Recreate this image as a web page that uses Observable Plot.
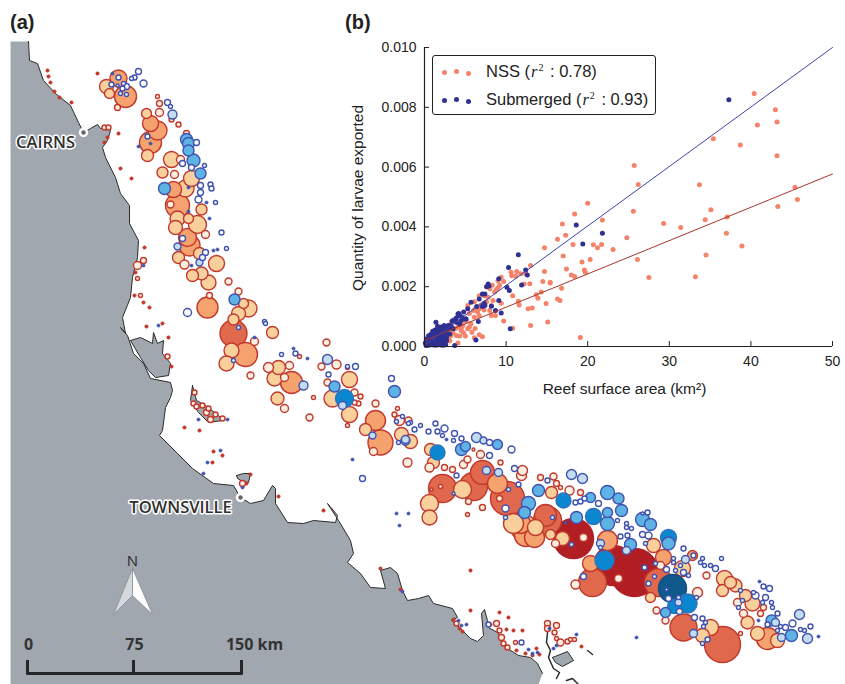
<!DOCTYPE html>
<html><head><meta charset="utf-8">
<script src="https://cdn.jsdelivr.net/npm/d3@7"></script>
<script src="https://cdn.jsdelivr.net/npm/@observablehq/plot@0.6"></script>
<style>
html,body{margin:0;padding:0;background:#fff}
#wrap{position:relative;width:845px;height:684px;overflow:hidden;font-family:"Liberation Sans",Arial,sans-serif}
#wrap svg{position:absolute;background:transparent;max-width:none}
#mapBox svg{left:0;top:0}
#scatBox svg{left:340px;top:0}
.pl{position:absolute;font:bold 20px "Liberation Sans",Arial,sans-serif;color:#222;top:11px}
#leg{position:absolute;left:432px;top:55px;width:224px;height:60px;border:1px solid #222;border-radius:3px;background:#fff;box-sizing:border-box;font-size:16.5px;color:#222}
#leg .row{position:absolute;left:53px;white-space:nowrap}
#leg i{font-family:"Liberation Serif",serif;padding-left:1px;padding-right:1px}
#leg sup{font-size:10px;line-height:0;font-family:"Liberation Serif",serif;padding-right:2px}
#leg b{position:absolute;width:5px;height:5px;border-radius:50%}
</style></head><body>
<div id="wrap"><div id="mapBox"></div><div id="scatBox"></div>
<div class="pl" style="left:10px">(a)</div><div class="pl" style="left:345px">(b)</div>
<div id="leg"></div></div>
<script>
// ---- Map data, map grid units [east, south]
const coast=[[28,41],[29,60],[37,63],[43,80],[55,93],[70,105],[78,122],[83,132],[90,128],[97,124],[100,128],[107,126],[110,130],[107,140],[102,147],[105,157],[115,177],[120,193],[129,205],[129,223],[138,240],[137,257],[132,277],[130,297],[122,317],[125,333],[120,327],[127,335],[133,353],[143,363],[150,378],[170,382],[172,390],[170,397],[165,407],[162,430],[159,435],[177,453],[192,468],[213,483],[233,485],[240,497],[250,503],[263,500],[272,485],[275,488],[275,503],[287,522],[303,523],[313,520],[335,522],[337,515],[327,503],[338,520],[350,540],[353,553],[347,562],[360,573],[370,587],[385,588],[380,570],[390,567],[397,573],[402,590],[407,600],[418,598],[428,595],[433,603],[452,608],[457,617],[451,620],[457,625],[462,630],[470,638],[477,641],[483,635],[481,613],[484,609],[487,620],[488,627],[497,632],[502,640],[507,648],[518,655],[530,657],[537,663],[542,673],[538,684]];
const landCorners=[[10,684],[10,41]];
const hinchinbrook=[[130,340],[140,337],[152,343],[153,332],[157,343],[163,340],[162,353],[170,363],[168,375],[155,377],[148,370],[140,357],[130,340]];
const palmIslands=[[192,385],[196,400],[205,405],[218,415],[222,420],[208,422],[198,412],[190,400],[192,385]];
const magnetic=[[236,475],[243,473],[250,473],[248,482],[242,481],[237,478],[236,475]];
const southIsland=[[552,657],[567,651],[573,660],[562,666],[555,662],[552,657]];
const southPen=[[547,632],[546,642],[550,650],[548,657],[553,668],[559,672],[556,678]];
const southReef=[[587,650],[592,654]];
const southReef2=[[566,680],[572,678],[578,684]];
const compassLeft=[[132,568],[132,595],[113,614],[132,568]];
const compassRight=[[132,568],[152,614],[132,595],[132,568]];
const cities=[["CAIRNS",83,132,45,142],["TOWNSVILLE",240,497,180,507]];
const scaleBarKm=[0,75,150];
const scaleBarUnit=[27,133,241];

// reefs: [east, south, size]
const nssPale=[[104,127,2.5],[108,127,2.5],[143,260,3],[137,265,4],[137,278,2],[140,295,2],[167,356,2.5],[194,392,2.5],[193,403,2.5],[196,406,2.5],[202,405,2.5],[208,408,2.5],[206,412,3],[215,414,2.5],[210,419,3],[222,418,2.5],[242,483,3],[456,623,2.5],[496,623,3],[499,630,2.5],[501,637,3],[503,643,2.5],[507,647,2.5],[515,642,2],[547,623,3],[547,628,3],[556,625,3],[554,632,2.5],[560,642,3.5],[556,638,2],[567,641,2.5],[570,639,2],[574,639,2],[117,107,3],[157,96,2],[159,103,3],[159,112,4],[171,119,2.5],[178,124,2.5],[186,133,3],[180,159,4],[174,174,4],[170,204,3.5],[205,234,4],[184,264,4.5],[228,281,3.5],[238,291,3.5],[209,295,3],[254,341,4],[250,375,3.5],[268,367,5],[289,365,4],[284,377,4],[284,408,4],[309,417,3.5],[326,342,3.5],[321,366,3.5],[336,364,4.5],[327,382,3.5],[354,392,3.5],[360,396,2.5],[358,403,2.5],[354,402,2.5],[347,425,2],[347,367,2],[375,403,3.5],[373,451,4],[397,408,2],[394,414,2.5],[399,420,5],[408,420,3.5],[407,462,4.5],[429,467,4.5],[444,467,3],[452,469,3],[480,454,4],[463,464,4],[467,459,3.5],[473,449,1.5],[500,462,2.5],[468,501,3],[482,507,3],[467,514,2],[521,475,5],[522,470,5],[540,477,3],[553,476,3.5],[569,490,4.5],[560,487,2],[556,483,3],[580,492,3],[499,498,3],[555,543,4],[583,537,4],[575,584,4.5],[618,578,4],[660,565,4],[697,592,5],[656,610,3.5],[665,620,3.5],[706,575,3.5],[737,602,4],[743,613,4],[760,613,3],[763,607,3],[740,633,2],[440,486,2],[431,489,1.5],[299,356,2],[313,397,2]];
const nssLight=[[109,93,5],[106,86,7],[146,113,5],[147,155,6],[171,159,8],[162,172,5.5],[191,178,8],[185,188,8.5],[201,209,5.5],[177,218,7.5],[188,218,5],[197,224,9],[175,227,7],[178,257,6],[199,253,6],[216,263,8],[201,273,6.5],[192,275,6],[208,282,7.5],[243,303,5],[248,308,8.5],[238,313,7],[233,319,5.5],[272,332,6],[231,350,7.5],[226,363,7.5],[278,367,7],[274,378,7.5],[277,398,6.5],[332,398,8.5],[349,379,8],[349,414,8],[365,429,6],[401,434,7],[410,441,7],[430,449,6],[433,462,6],[462,489,9],[429,503,9],[429,517,7.5],[551,492,6],[513,523,10],[523,527,13],[535,527,8],[550,534,5],[562,538,7],[650,597,5],[653,545,7],[682,568,8],[702,635,7],[710,627,8],[724,578,8],[722,590,6],[730,582,6],[735,585,6.5],[745,595,6],[752,603,7.5],[747,622,6.5],[757,633,7],[777,640,7]];
const nssMid=[[118,78,8.5],[125,96,11],[150,123,8],[157,130,9.5],[150,142,11],[173,189,8],[177,205,12],[187,237,9],[189,245,10.5],[207,307,10.5],[245,354,12],[291,382,11],[375,420,10],[380,442,12.5],[497,483,10],[525,535,11],[534,537,10],[520,523,10],[607,540,10],[590,563,8],[663,557,8],[692,555,5],[767,638,11]];
const nssDark=[[233,333,13.5],[482,472,12],[442,488,14],[473,486,14],[507,498,17],[545,515,11],[547,520,14],[592,582,14],[658,582,14],[683,627,13.5],[722,644,18]];
const nssDeep=[[573,538,20],[613,565,20],[634,572,24]];
const nssSpecks=[[97,73],[47,70],[48,76],[50,82],[54,91],[59,97],[71,102],[118,133],[107,137],[104,142],[120,168],[131,178],[144,247],[135,272],[134,295],[143,302],[149,307],[146,326],[162,323],[168,337],[171,366],[184,427],[199,430],[213,451],[222,455],[212,462],[250,474],[246,483],[278,496],[323,510],[380,568],[400,589],[470,570],[470,610],[499,612],[508,617],[506,629],[513,630],[522,630],[453,619],[490,624],[516,650],[525,653],[536,648],[539,654],[532,655],[581,646],[459,628],[462,631]];
const subWhite=[[138,71,3],[134,77,2.5],[131,78,2],[143,83,3.5],[118,77,2.5],[111,84,2.5],[123,83,2],[126,86,3],[122,88,2.5],[117,85,1.5],[120,93,2],[126,94,2],[167,102,3],[170,106,2],[147,136,2.5],[196,142,3],[182,163,3],[191,167,3],[204,165,2],[200,185,3],[210,184,2.5],[211,188,2.5],[200,192,3],[198,199,3.5],[215,202,2],[221,232,2.5],[182,238,3],[205,252,3],[202,257,3],[226,248,2],[187,312,4],[238,327,2],[264,321,2],[265,323,2],[233,360,2],[281,354,2],[295,353,2.5],[328,374,2.5],[347,366,2],[355,366,3],[391,378,3],[402,416,2],[410,422,2],[396,421,2],[414,429,2.5],[420,425,2],[428,431,2.5],[435,423,2.5],[437,431,2.5],[398,442,2],[362,478,3],[444,428,3.5],[454,433,3],[461,438,2.5],[453,440,2],[442,435,2],[408,423,2],[489,442,3],[511,449,3.5],[489,455,3],[514,468,3],[456,475,2.5],[453,493,1.5],[508,489,2],[518,484,2.5],[505,508,3.5],[505,517,2],[547,480,2.5],[552,517,2],[575,502,2.5],[580,501,2.5],[584,498,2.5],[598,503,3],[617,520,2],[571,544,2],[600,547,2],[620,536,2.5],[627,535,2.5],[626,523,2],[626,527,2],[631,528,2],[647,512,2.5],[642,513,1.5],[642,534,3],[648,535,3.5],[645,543,2],[583,576,3],[644,567,2.5],[655,563,2],[654,576,2],[648,583,2.5],[666,569,3],[668,598,3],[679,611,3],[678,597,2],[696,597,2],[673,558,2],[673,562,2],[683,548,2.5],[693,555,2.5],[675,570,2],[683,572,3],[680,565,2],[688,575,2],[702,558,2],[700,562,2],[704,565,2],[710,565,2],[715,568,3],[721,558,2],[694,617,3],[702,618,2.5],[705,622,2],[703,626,2],[707,639,2.5],[702,643,2],[740,590,2],[742,600,2],[738,607,2],[763,586,2.5],[769,588,3],[753,592,2],[755,595,3.5],[765,597,3],[762,602,2],[771,602,2],[772,607,2],[777,613,2.5],[767,624,2.5],[780,626,2],[792,623,3.5],[785,627,3],[810,626,2.5],[804,630,2],[800,629,2],[777,630,2],[666,589,1.5],[521,642,2.5],[488,624,2.5]];
const subLight=[[172,114,4.5],[177,246,3.5],[199,262,3.5],[303,385,4.5],[327,359,5],[342,405,4],[372,435,3.5],[405,440,4.5],[405,439,4],[476,437,5],[483,440,3.5],[486,470,4],[498,472,4],[571,474,5],[582,478,5],[600,543,4],[626,550,4],[678,602,3.5],[685,559,4],[693,633,4],[775,622,4],[799,614,5],[781,637,4],[807,638,5]];
const subMid=[[186,139,6],[188,143,6],[188,150,5.5],[193,160,6.5],[200,173,5.5],[164,188,6],[234,299,5.5],[334,386,5.5],[394,391,6],[461,449,6],[465,446,5],[497,444,5],[528,503,7],[524,512,6],[538,490,6],[576,517,6],[590,497,5],[607,492,7],[618,498,5.5],[621,510,6],[607,512,5],[607,523,7],[630,544,6],[642,519,7],[650,524,6],[668,543,6.5],[665,612,5],[771,620,5.5],[791,635,6]];
const subStrong=[[344,398,9],[437,452,7.5],[563,500,7.5],[593,516,8],[668,537,8],[604,560,9.5],[687,603,9.5],[674,606,7]];
const subDeep=[[672,588,14]];
const subSpecks=[[112,73],[150,143],[138,146],[188,187],[206,202],[188,211],[209,218],[217,249],[213,250],[191,265],[254,337],[293,348],[307,358],[352,459],[396,513],[408,513],[399,525],[446,439],[565,522],[636,637],[759,581],[758,620],[818,636],[143,265],[158,325],[203,473],[242,487],[220,450],[207,462],[227,419],[198,419],[466,624],[461,625],[458,620],[402,591],[528,649],[532,653],[537,652],[549,628],[553,648],[556,645],[576,634]];

// ---- Panel (b) data
const nssArea=[40.4,43,43.2,40.8,35.4,38.7,43.2,25.7,26.2,33.7,45.4,45.7,43.3,20,18.4,25.6,35.1,37.1,34.4,21.8,16.9,29.3,31.4,17.3,16.3,24.8,37,38.9,18.2,20.7,21.7,21.2,23.1,14.7,17,34.5,20.3,26.1,19.3,13,17.4,19.6,19.7,14.7,18,18.4,27.5,33.2,11.3,10.6,10.7,11.2,11.8,12.4,14.5,15.4,15.4,12.9,12.2,16.8,14.3,13.7,13.9,10.8,16.3,16.6,11.5,11.6,14.9,12.7,13.2,9.7,15.1,13,10.8,19.1,9.4,9.7,9,9,8,8.6,6.7,6.1,5.3,7.3,7.8,6.9,9.4,8.2,8,7.3,6.7,6.7,8.2,8.7,6.1,5.1,4.7,5.7,4.1,5.3,5.8,5,4.1,6.7,7.1,6.1,3.9,3.3,2.9,2,4.5,3.7,2.4,1.6,3.3,6.5,7.5,8.4,2.5,3.2,3.5,4.3,4.8,3,5.5,6.2,4.2,4.5,3.8,3,5,6,5.5,6.3,7,7.6,8.8,9.2,8.3,2.2,1.9,3.1];
const nssLarvae=[.00846,.00792,.00751,.00741,.00695,.00674,.00638,.00605,.00542,.00541,.00533,.00492,.00468,.00479,.00443,.00452,.00457,.00433,.00424,.00423,.0041,.00411,.00398,.00372,.00359,.00364,.00379,.00336,.00341,.0034,.00341,.0033,.00324,.0033,.00303,.00306,.00291,.00291,.00283,.00271,.00259,.00256,.00248,.00251,.00239,.00234,.00231,.00233,.00251,.00248,.00237,.00235,.00243,.00243,.00217,.00215,.00212,.0021,.00209,.00195,.00182,.00173,.00161,.0017,.00159,.00154,.00151,.00139,.00144,.00126,.00129,.00085,.00082,.0007,.00061,.0003,.00232,.00217,.0022,.00196,.00193,.00182,.0017,.0015,.00137,.0017,.00165,.00137,.00145,.00137,.0012,.00122,.00126,.00104,.00104,.00104,.00098,.00087,.0007,.00076,.00065,.00059,.00048,.00035,.00012,.00039,.00033,.00029,.00037,.00053,.00031,.0002,.00053,.00087,.00059,.00053,.00081,.00115,.00148,.00154,.0001,.00035,.00045,.00035,.00045,.0002,.00065,.0006,.0007,.0006,.0006,.0006,.00085,.0012,.0011,.0013,.0014,.0015,.0019,.00205,.00205,.00025,.00012,.00018];
const subArea=[37.3,18.6,21.8,19.4,11.5,10.3,12.4,12.6,11.9,9.1,7.8,7.6,7.9,10.1,10.4,9.1,9.4,10.5,6.3,6.6,8.2,8.7,7.1,7.4,6.7,7.3,7.1,6.4,5.7,5.3,7.4,4.8,4.1,4.3,5.1,4.5,3.6,3.9,3.5,2.9,2.4,2,1.4,1.4,1.8,2.2,3.1,2.7,3.7,3.9,4.2,4.6,5,3.4,3.2,2.8,4.3,0.2,0.5,0.8,1.1,1.4,1.7,2,2.3,2.6,0.1,0.4,0.7,1,1.3,1.6,1.9,2.2,2.5,0.3,0.6,0.9,1.2,1.5,1.8,2.1,2.4,2.7,0.5,0.8,1.1,1.4,1.7,2,2.3,2.6,1,1.3,1.6,1.9,2.2,2.5,2.8,3,1.6,3.3];
const subLarvae=[.00825,.00406,.00379,.00343,.00307,.00264,.00256,.00239,.00206,.00227,.00209,.002,.00202,.00198,.00187,.00154,.00112,.00059,.00022,.00084,.00135,.0012,.00176,.00176,.00159,.00145,.00134,.00134,.00148,.00126,.00137,.00115,.00109,.00104,.00092,.00087,.00089,.00081,.00059,.0007,.0007,.00065,.00081,.0005,.00053,.00053,.00042,.0002,.00003,.00095,.0011,.00098,.00092,.00085,.0007,.00065,.00075,.00003,.00004,.00006,.00005,.00004,.00006,.00005,.00004,.00006,.00012,.00016,.00018,.00017,.00016,.00019,.00017,.00018,.00016,.00026,.00029,.0003,.00031,.00029,.0003,.00032,.0003,.00031,.00036,.00041,.00044,.00043,.00045,.00044,.00046,.00044,.00051,.00055,.00057,.00056,.00059,.00058,.00057,.00062,.00068,.00066];
const fitArea=[0,50];
const nssFit=[.0002,.00577];
const subFit=[.00005,.01];
const xTicks=[0,10,20,30,40,50];
const yTicks=[0,.002,.004,.006,.008,.01];
const xTitle="Reef surface area (km²)", yTitle="Quantity of larvae exported";

// ---- Styles
const nssStroke="#c2382c", subStroke="#3f52b0";
const tiers=[
 [nssDeep,"#b11f24","#b11f24"],[nssDark,"#e0684c",nssStroke],[nssMid,"#f5a26f",nssStroke],[nssLight,"#f9d09c",nssStroke],[nssPale,"#fcefe0",nssStroke]
];
const subTiers=[
 [subDeep,"#10598c","#0f4f80"],[subStrong,"#0a87cf","#2f74bd"],[subMid,"#5cb3e4",subStroke],[subLight,"#c3dcf0",subStroke],[subWhite,"#ffffff",subStroke]
];
const toRows=(tbl)=>tbl.flatMap(([a,f,s])=>a.map(d=>({x:d[0],y:d[1],r:d[2],f,s}))).sort((p,q)=>q.r-p.r);
const pt=a=>a.map(d=>({x:d[0],y:d[1]}));
const lineOf=(a,o)=>Plot.line(pt(a),{x:"x",y:"y",curve:"linear",...o});
const dotStyle={x:"x",y:"y",r:"r",fill:"f",stroke:"s",strokeWidth:1.4};

const land=Plot.plot({
  width:845,height:684,margin:0,
  x:{domain:[0,845],axis:null},y:{domain:[684,0],axis:null},r:{type:"identity"},
  marks:[
    lineOf([...coast,...landCorners],{fill:"#a1a7af",stroke:"none"}),
    lineOf(coast.slice(0,-1),{stroke:"#2b2b2b",strokeWidth:1}),
    ...[hinchinbrook,palmIslands,magnetic,southIsland].map(a=>lineOf(a,{fill:"#a1a7af",stroke:"#2b2b2b",strokeWidth:1})),
    ...[southPen,southReef,southReef2].map(a=>lineOf(a,{stroke:"#2b2b2b",strokeWidth:1.5})),
    lineOf(compassLeft,{fill:"#d6d9dc",stroke:"#8a8f95",strokeWidth:.8}),
    lineOf(compassRight,{fill:"#ffffff",stroke:"#8a8f95",strokeWidth:.8}),
    Plot.text(["N"],{x:()=>132,y:()=>561,text:d=>d,fontSize:15,fill:"#2b2b2b",fontFamily:"Open Sans"}),
    Plot.dot(nssSpecks.map(d=>({x:d[0],y:d[1]})),{x:"x",y:"y",r:1.7,fill:nssStroke,stroke:nssStroke,strokeWidth:.6}),
    Plot.dot(toRows(tiers),dotStyle),
    Plot.dot(subSpecks.map(d=>({x:d[0],y:d[1]})),{x:"x",y:"y",r:1.6,fill:subStroke,stroke:subStroke,strokeWidth:.6}),
    Plot.dot(toRows(subTiers),dotStyle),
    Plot.dot(cities,{x:d=>d[1],y:d=>d[2],r:3.5,fill:"#666",stroke:"#fff",strokeWidth:2.5}),
    Plot.text(cities,{x:d=>d[3],y:d=>d[4],text:d=>d[0],fontSize:16.5,fontWeight:600,fontFamily:"Open Sans",fill:"#2f2f2f",stroke:"#fff",strokeWidth:3}),
    Plot.line(scaleBarUnit.map(x=>({x,y:673})),{x:"x",y:"y",stroke:"#262626",strokeWidth:3}),
    Plot.ruleX(scaleBarUnit,{y1:()=>660,y2:()=>674,stroke:"#262626",strokeWidth:3}),
    Plot.text(scaleBarKm,{x:(d,i)=>scaleBarUnit[i]+(i==2?13:1),y:()=>644,text:(d,i)=>i==2?d+" km":String(d),fontSize:16,fontWeight:700,fontFamily:"Open Sans",fill:"#333"})
  ]
});
document.getElementById("mapBox").append(land);

const rows=(xs,ys)=>xs.map((x,i)=>({x,y:ys[i]}));
const scat=Plot.plot({
  width:505,height:400,
  marginLeft:84,marginRight:13,marginTop:47,marginBottom:54,
  style:{fontFamily:"Liberation Sans",color:"#222",background:"transparent"},
  x:{domain:[0,50]},y:{domain:[0,.01]},
  marks:[
    Plot.dot(rows(nssArea,nssLarvae),{x:"x",y:"y",r:2.5,fill:"#f4836a"}),
    Plot.dot(rows(subArea,subLarvae),{x:"x",y:"y",r:2.5,fill:"#2e3192"}),
    Plot.line(rows(fitArea,nssFit),{x:"x",y:"y",stroke:"#a8342e",strokeWidth:1}),
    Plot.line(rows(fitArea,subFit),{x:"x",y:"y",stroke:"#3c45a6",strokeWidth:1}),
    Plot.ruleX([0],{stroke:"#222",strokeWidth:1.2}),
    Plot.ruleY([0],{stroke:"#222",strokeWidth:1.2}),
    Plot.axisX({ticks:xTicks,tickSize:-5,tickPadding:15,tickFormat:d=>String(d),fontSize:14,label:null,stroke:"#222",color:"#222"}),
    Plot.axisY({ticks:yTicks,tickSize:-5,tickPadding:13,tickFormat:d3.format(".3f"),fontSize:14,label:null,stroke:"#222",color:"#222"}),
    Plot.text([xTitle],{frameAnchor:"bottom",dy:43,dx:-4,fontSize:15.5,fill:"#222",lineAnchor:"middle"}),
    Plot.text([yTitle],{frameAnchor:"left",textAnchor:"middle",dx:-66,dy:1,rotate:-90,fontSize:15.5,fill:"#222",lineAnchor:"middle"})
  ]
});
document.getElementById("scatBox").append(scat);

// legend
const legendRows=[["NSS","0.78","#f4836a",16],["Submerged","0.93","#2e3192",44]];
const leg=document.getElementById("leg");
for(const [name,r2,col,y] of legendRows){
  const t=document.createElement("div");t.className="row";t.style.top=(y-10)+"px";
  t.innerHTML=`${name} (<i>r</i><sup>2</sup> : ${r2})`;leg.append(t);
  [9,21,33].forEach((dx,i)=>{const b=document.createElement("b");b.style.left=dx+"px";b.style.top=(y-2+[0,-1,1][i])+"px";b.style.background=col;leg.append(b);});
}
</script></body></html>
